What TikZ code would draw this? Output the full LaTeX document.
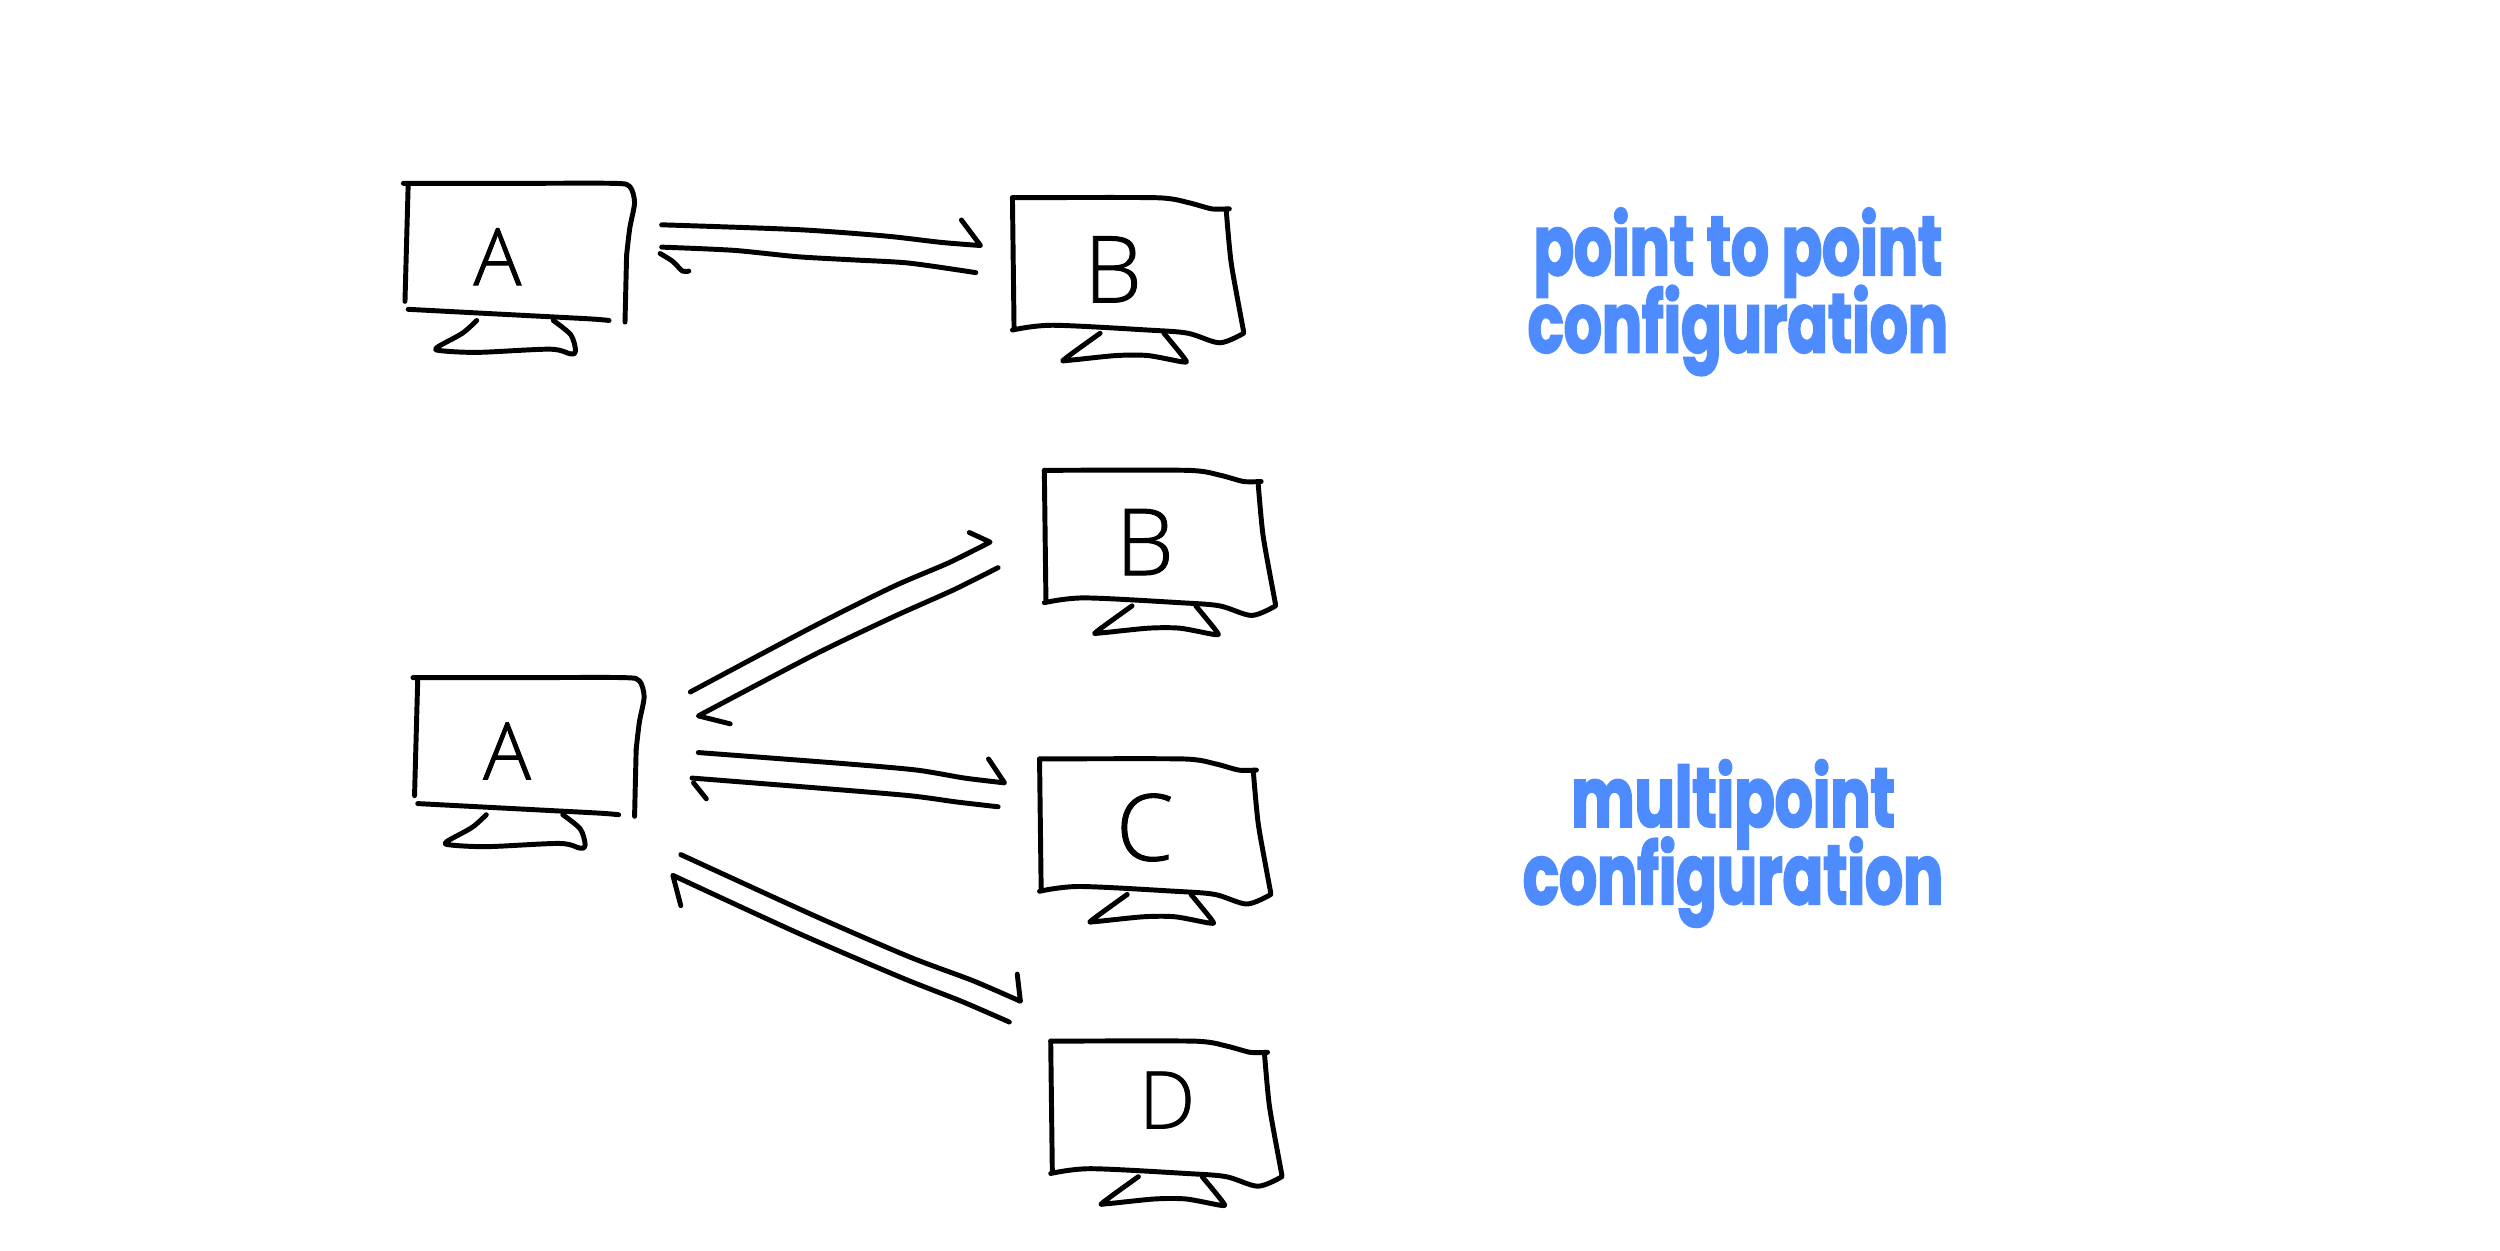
\documentclass[tikz,border=0pt]{standalone}
\usepackage{fontspec}
\setmainfont[FakeBold=1]{Open Sans Light}
\newfontfamily\blobfont[FakeBold=2.2,FakeStretch=0.71]{Poppins Bold}
\definecolor{bluetext}{HTML}{4D8BFF}
\tikzset{
  x=1mm,y=-1mm,
  pen/.style={line width=3.1mm,line cap=round,line join=round,black},
  letterlabel/.style={inner sep=0pt,font=\fontsize{142pt}{142pt}\selectfont},
  tallletter/.style={inner sep=0pt,font=\fontsize{165pt}{165pt}\selectfont},
  bluelabel/.style={inner sep=0pt,align=center,text=bluetext,font=\blobfont\fontsize{150pt}{136pt}\selectfont},
  monA/.pic={
    \draw[pen] plot[smooth,tension=.45] coordinates {(0,0) (70,0) (132,0) (142,2) (145,12) (142,28) (140,45)};
    \draw[pen] (140,45) -- (139,87);
    \draw[pen] (3,1) -- (1,74);
    \draw[pen] plot[smooth,tension=.4] coordinates {(3,79) (60,82) (117,85) (129,86)};
    \draw[pen] plot[smooth,tension=.5] coordinates {(46,86) (37,94) (21,103) (24,105) (47,106) (92,104) (105,107) (108,105) (105,95) (94,86)};
  },
  monB/.pic={
    \draw[pen] plot[smooth,tension=.4] coordinates {(0,0) (90,0) (110,3) (125,7) (136,7)};
    \draw[pen] (0,0) -- (1,81);
    \draw[pen] plot[smooth,tension=.5] coordinates {(134,7) (136,30) (138,46) (145,84)};
    \draw[pen] plot[smooth,tension=.5] coordinates {(0,83) (25,80) (85,83) (110,85) (130,91) (145,85)};
    \draw[pen] plot[smooth,tension=.45] coordinates {(55,85) (33,101) (35,102) (65,99) (85,99) (107,103) (108,101) (95,85)};
  }
}
\begin{document}
\begin{tikzpicture}
\path[use as bounding box,fill=white] (0,0) rectangle (1568,784);
% monitors
\pic at (253,115) {monA};
\pic at (635,124) {monB};
\pic at (259,425) {monA};
\pic at (655,295) {monB};
\pic at (652,476) {monB};
\pic at (659,653) {monB};
% monitor letters
\node[letterlabel] (a1) at (312,161) {A};
\node[tallletter] (b1) at (698,169) {B};
\node[letterlabel] (a2) at (318,471) {A};
\node[tallletter] (b2) at (718,340) {B};
\node[tallletter] (c2) at (718,519) {C};
\node[letterlabel] (d2) at (732,690) {D};
% side labels
\node[bluelabel] (ptp) at (1090,183) {point to point\\[-23pt]configuration};
\node[bluelabel] (mpc) at (1087,529) {multipoint\\[-23pt]configuration};
% connector ends
\coordinate (p1s) at (415,141); \coordinate (p1e) at (615,154); \coordinate (p1h) at (603,138);
\coordinate (p2s) at (612,171); \coordinate (p2e) at (415,155);
\coordinate (b1s) at (433,434); \coordinate (b1e) at (621,340); \coordinate (b1h) at (608,334);
\coordinate (b2s) at (626,356); \coordinate (b2e) at (438,449); \coordinate (b2h) at (458,454);
\coordinate (c1s) at (438,472); \coordinate (c1e) at (630,491); \coordinate (c1h) at (620,476);
\coordinate (c2s) at (626,506); \coordinate (c2e) at (434,488); \coordinate (c2t) at (435,491); \coordinate (c2h) at (443,501);
\coordinate (d1s) at (427,536); \coordinate (d1e) at (640,628); \coordinate (d1h) at (638,611);
\coordinate (d2s) at (633,641); \coordinate (d2e) at (422,549); \coordinate (d2h) at (427,568);
% point to point arrows
\draw[pen] plot[smooth,tension=.45] coordinates {(p1s) (500,144) (555,148) (590,152) (p1e)} -- (p1h);
\draw[pen] plot[smooth,tension=.45] coordinates {(p2s) (570,165) (535,163) (500,161) (460,157) (p2e)};
\draw[pen] plot[smooth,tension=.5] coordinates {(414,159) (422,164) (428,170) (432,170)};
% multipoint arrows
\draw[pen] plot[smooth,tension=.45] coordinates {(b1s) (510,393) (560,368) (595,353) (b1e)} -- (b1h);
\draw[pen] plot[smooth,tension=.45] coordinates {(b2s) (598,370) (560,387) (510,411) (b2e)} -- (b2h);
\draw[pen] plot[smooth,tension=.45] coordinates {(c1s) (530,479) (575,483) (605,488) (c1e)} -- (c1h);
\draw[pen] plot[smooth,tension=.45] coordinates {(c2s) (600,503) (570,499) (510,494) (c2e)};
\draw[pen] (c2t) -- (c2h);
\draw[pen] plot[smooth,tension=.45] coordinates {(d1s) (510,574) (570,600) (610,615) (d1e)} -- (d1h);
\draw[pen] plot[smooth,tension=.45] coordinates {(d2s) (603,628) (565,613) (500,585) (d2e)} -- (d2h);
\end{tikzpicture}
\end{document}
